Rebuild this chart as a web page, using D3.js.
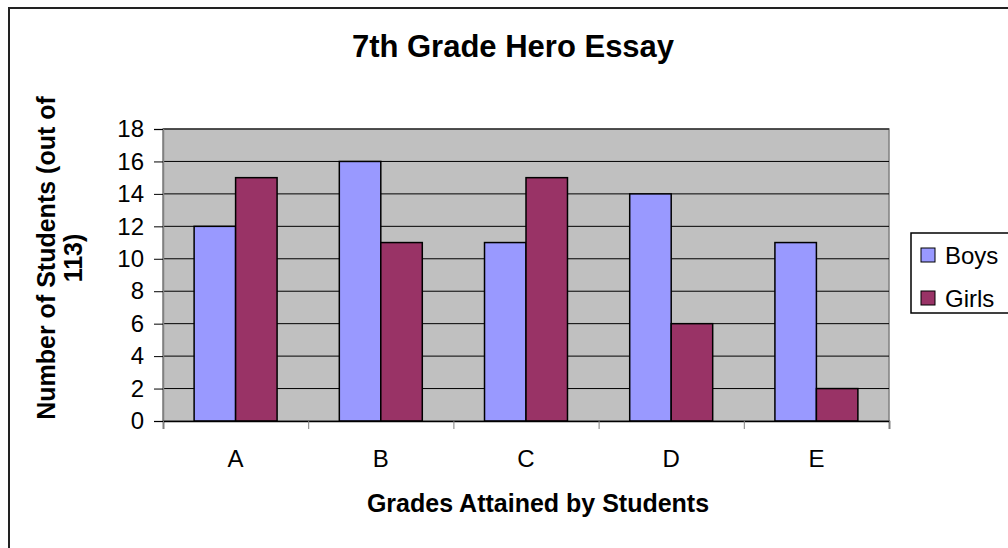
<!DOCTYPE html>
<meta charset="utf-8">
<style>
body { margin: 0; background: #fff; }
* { font-family: "Liberation Sans", Arial, Helvetica, sans-serif; }
</style>
<body>
<script src="https://cdn.jsdelivr.net/npm/d3@7"></script>
<script>

// data
var grades = ["A", "B", "C", "D", "E"];
var series = ["Boys", "Girls"];
var boys = [12, 16, 11, 14, 11];
var girls = [15, 11, 15, 6, 2];
var yTicks = [0, 2, 4, 6, 8, 10, 12, 14, 16, 18];
var colors = ["#9999FF", "#993366"];

var W = 1008, H = 548;
var margin = {top: 129, left: 163},
    width = 726,
    height = 292;

var svg = d3.select("body").append("svg")
    .attr("width", W)
    .attr("height", H);

// chart frame (runs off the right and bottom edge)
svg.append("rect")
    .attr("x", 9).attr("y", 8)
    .attr("width", 1200).attr("height", 700)
    .attr("fill", "#fff")
    .attr("stroke", "#222")
    .attr("stroke-width", 2);

var g = svg.append("g")
    .attr("transform", "translate(" + margin.left + "," + margin.top + ")");

var x0 = d3.scaleBand().domain(grades).range([0, width]).paddingInner(0).paddingOuter(0);
var x1 = d3.scaleBand().domain(series).range([0, x0.bandwidth()]).paddingInner(0).paddingOuter(0.75);
var y = d3.scaleLinear().domain([0, 18]).range([height, 0]);

// plot background
g.append("rect")
    .attr("width", width).attr("height", height)
    .attr("fill", "#C0C0C0")
    .attr("stroke", "#808080")
    .attr("stroke-width", 1.5);

// gridlines
g.selectAll(".grid")
  .data(yTicks.filter(function(d) { return d > 0; }))
  .enter().append("line")
    .attr("x1", 0).attr("x2", width)
    .attr("y1", function(d) { return y(d); })
    .attr("y2", function(d) { return y(d); })
    .attr("stroke", "#000")
    .attr("stroke-width", 1);

// bars
var rows = grades.map(function(k, i) { return {grade: k, vals: [boys[i], girls[i]]}; });

var groups = g.selectAll(".grp")
  .data(rows)
  .enter().append("g")
    .attr("transform", function(d) { return "translate(" + x0(d.grade) + ",0)"; });

groups.selectAll("rect")
  .data(function(d) { return d.vals.map(function(v, j) { return {s: series[j], v: v, j: j}; }); })
  .enter().append("rect")
    .attr("x", function(d) { return x1(d.s); })
    .attr("width", x1.bandwidth())
    .attr("y", function(d) { return y(d.v); })
    .attr("height", function(d) { return height - y(d.v); })
    .attr("fill", function(d) { return colors[d.j]; })
    .attr("stroke", "#000")
    .attr("stroke-width", 1.5);

// y axis
var yAxis = g.append("g")
    .call(d3.axisLeft(y).tickValues(yTicks).tickSize(9).tickPadding(10));
yAxis.select(".domain").attr("stroke", "#808080").attr("stroke-width", 1.5);
yAxis.selectAll("line").attr("stroke", "#000");
yAxis.selectAll("text").attr("font-size", "24px").attr("fill", "#000");

// x axis
var xTickScale = d3.scaleLinear().domain([0, grades.length]).range([0, width]);
var xAxis = g.append("g")
    .attr("transform", "translate(0," + height + ")")
    .call(d3.axisBottom(xTickScale).ticks(grades.length).tickSize(8).tickFormat(""));
xAxis.select(".domain").attr("stroke", "#000").attr("stroke-width", 1.5);
xAxis.selectAll("line").attr("stroke", "#808080");

g.append("g")
    .attr("transform", "translate(0," + height + ")")
    .call(d3.axisBottom(x0).tickSize(0).tickPadding(29))
    .call(function(a) { a.select(".domain").remove(); })
    .selectAll("text")
    .attr("font-size", "24px")
    .attr("fill", "#000");

// title
svg.append("text")
    .attr("x", 513).attr("y", 57)
    .attr("text-anchor", "middle")
    .attr("font-size", "31px")
    .attr("font-weight", "bold")
    .text("7th Grade Hero Essay");

// x title
svg.append("text")
    .attr("x", 538).attr("y", 512)
    .attr("text-anchor", "middle")
    .attr("font-size", "25px")
    .attr("font-weight", "bold")
    .text("Grades Attained by Students");

// y title, two lines
var yTitle = svg.append("text")
    .attr("transform", "translate(55,258)rotate(-90)")
    .attr("text-anchor", "middle")
    .attr("font-size", "25px")
    .attr("font-weight", "bold");
yTitle.append("tspan").attr("x", 0).attr("y", 0).text("Number of Students (out of");
yTitle.append("tspan").attr("x", 0).attr("y", 27).text("113)");

// legend
var legend = svg.append("g").attr("transform", "translate(911,233)");
legend.append("rect")
    .attr("width", 200).attr("height", 80)
    .attr("fill", "#fff")
    .attr("stroke", "#000")
    .attr("stroke-width", 1.5);

var items = legend.selectAll(".item")
  .data(series)
  .enter().append("g")
    .attr("transform", function(d, i) { return "translate(10," + (15 + i * 43) + ")"; });

items.append("rect")
    .attr("width", 14).attr("height", 14)
    .attr("fill", function(d, i) { return colors[i]; })
    .attr("stroke", "#000")
    .attr("stroke-width", 1);

items.append("text")
    .attr("x", 24).attr("y", 16)
    .attr("font-size", "24px")
    .text(function(d) { return d; });

</script>
</body>
</html>
